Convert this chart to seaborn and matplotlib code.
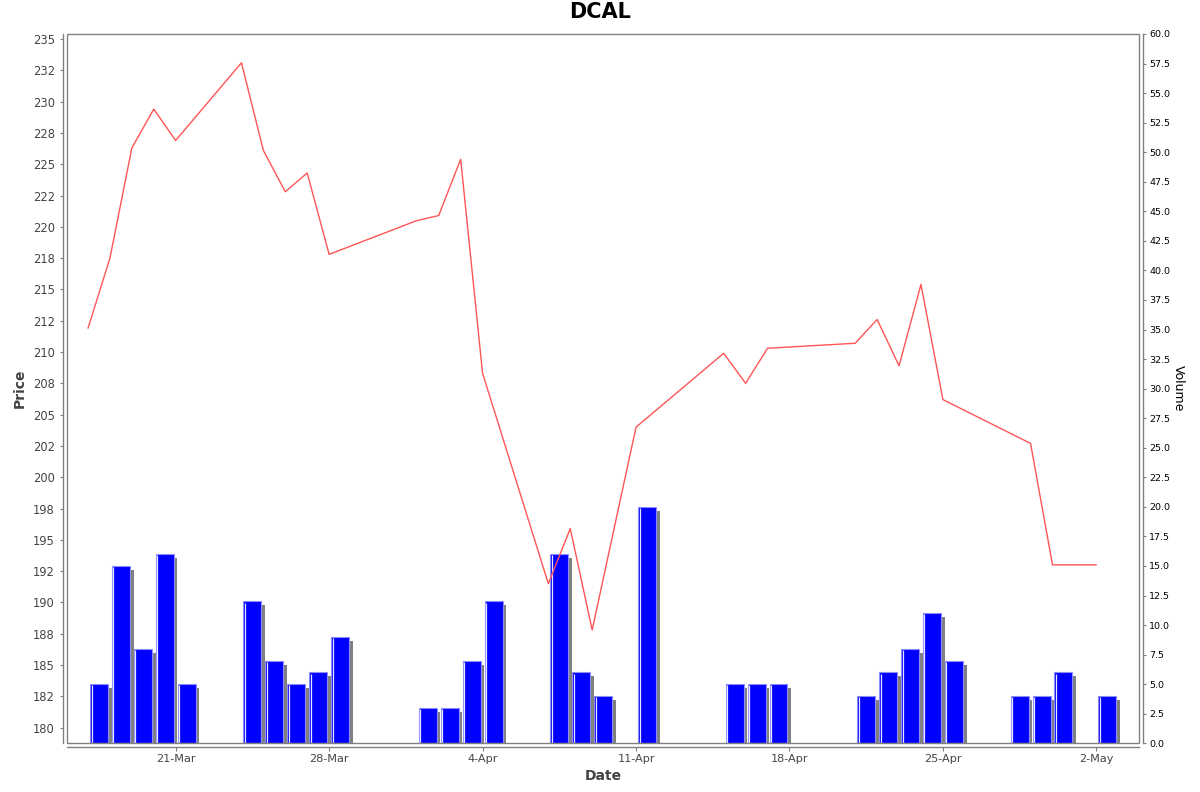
import numpy as np
import pandas as pd
import matplotlib
matplotlib.use("Agg")
import matplotlib.pyplot as plt
import matplotlib.dates as mdates
from matplotlib.patches import Rectangle
from matplotlib.ticker import FixedLocator, FuncFormatter
import seaborn as sns

# price series (days with a quote)
price_dates = ['2025-03-17', '2025-03-18', '2025-03-19', '2025-03-20', '2025-03-21',
               '2025-03-24', '2025-03-25', '2025-03-26', '2025-03-27', '2025-03-28',
               '2025-04-01', '2025-04-02', '2025-04-03', '2025-04-04',
               '2025-04-07', '2025-04-08', '2025-04-09', '2025-04-11',
               '2025-04-15', '2025-04-16', '2025-04-17',
               '2025-04-21', '2025-04-22', '2025-04-23', '2025-04-24', '2025-04-25',
               '2025-04-29', '2025-04-30', '2025-05-02']
prices = [211.9, 217.5, 226.3, 229.4, 226.9,
          233.1, 226.1, 222.8, 224.3, 217.8,
          220.5, 220.9, 225.4, 208.3,
          191.5, 195.9, 187.8, 204.0,
          209.9, 207.5, 210.3,
          210.7, 212.6, 208.9, 215.4, 206.2,
          202.7, 193.0, 193.0]

# volume series
volume_dates = ['2025-03-17', '2025-03-18', '2025-03-19', '2025-03-20', '2025-03-21',
                '2025-03-24', '2025-03-25', '2025-03-26', '2025-03-27', '2025-03-28',
                '2025-04-01', '2025-04-02', '2025-04-03', '2025-04-04',
                '2025-04-07', '2025-04-08', '2025-04-09', '2025-04-11',
                '2025-04-15', '2025-04-16', '2025-04-17',
                '2025-04-21', '2025-04-22', '2025-04-23', '2025-04-24', '2025-04-25',
                '2025-04-28', '2025-04-29', '2025-04-30', '2025-05-02']
volumes = [5, 15, 8, 16, 5,
           12, 7, 5, 6, 9,
           3, 3, 7, 12,
           16, 6, 4, 20,
           5, 5, 5,
           4, 6, 8, 11, 7,
           4, 4, 6, 4]

price_ticks = np.arange(180, 235.1, 2.5)
volume_ticks = np.arange(0, 60.1, 2.5)

price_df = pd.DataFrame({"Date": pd.to_datetime(price_dates), "Price": prices})
vol_x = mdates.date2num(pd.to_datetime(volume_dates).to_pydatetime())
vol = np.array(volumes, dtype=float)

sns.set_style("white")
plt.rcParams['font.family'] = ['DejaVu Sans']

fig = plt.figure(figsize=(12, 7.92), dpi=100)
ax = fig.add_axes([67.3 / 1200, 1 - 743.3 / 792, 1072 / 1200, 709.3 / 792])
ax2 = ax.twinx()

# volume bars with drop shadow
bar_w = 0.82
ax2.bar(vol_x + 0.5 + 0.17, vol - 0.34, width=bar_w, color='#808080', linewidth=0, zorder=1)
ax2.bar(vol_x + 0.5, vol, width=bar_w, color='#0000ff', edgecolor='#8c8cff', linewidth=0.8, zorder=2)
ax2.vlines(vol_x + 0.5 - bar_w / 2 + 0.07, 0, vol - 0.1, colors='#e6e6ff', linewidth=0.9, zorder=3)
ax2.set_ylim(0, 60)

# price line on top
sns.lineplot(data=price_df, x="Date", y="Price", ax=ax, color='#ff5555', linewidth=1.0)
ax.set_zorder(ax2.get_zorder() + 1)
ax.patch.set_visible(False)

start = mdates.date2num(pd.Timestamp('2025-03-17'))
end = mdates.date2num(pd.Timestamp('2025-05-03'))
ax.set_xlim(start - 0.945, end + 0.96)
ax.set_ylim(178.75, 235.4)

ax.xaxis.set_major_locator(mdates.WeekdayLocator(byweekday=mdates.FR))
ax.xaxis.set_major_formatter(mdates.DateFormatter('%-d-%b'))
ax.yaxis.set_major_locator(FixedLocator(price_ticks))
ax.yaxis.set_major_formatter(FuncFormatter(lambda v, p: '%.0f' % v))
ax2.yaxis.set_major_locator(FixedLocator(volume_ticks))
ax2.yaxis.set_major_formatter(FuncFormatter(lambda v, p: '%.1f' % v))

gray = '#808080'
for sp in ['top', 'right']:
    ax.spines[sp].set_visible(False)
for sp in ['top', 'left', 'bottom']:
    ax2.spines[sp].set_visible(False)
ax.spines['left'].set_position(('outward', 2.9))
ax.spines['bottom'].set_position(('outward', 2.9))
ax2.spines['right'].set_position(('outward', 2.9))
for s in [ax.spines['left'], ax.spines['bottom'], ax2.spines['right']]:
    s.set_color(gray)
    s.set_linewidth(1.0)

ax.add_patch(Rectangle((0, 0), 1, 1, transform=ax.transAxes, fill=False,
                       edgecolor=gray, linewidth=1.0, clip_on=False, zorder=10))

ax.tick_params(axis='y', direction='out', length=2, width=0.8, color=gray,
               labelsize=8.3, labelcolor='#444444', pad=4, left=True)
ax.tick_params(axis='x', direction='out', length=3, width=0.8, color=gray,
               labelsize=8.1, labelcolor='#444444', pad=1.5, bottom=True)
ax2.tick_params(axis='y', direction='out', length=2, width=0.8, color=gray,
                labelsize=6.8, labelcolor='black', pad=2.2, right=True)

ax.set_xlabel('Date', fontsize=10, fontweight='bold', color='#444444', va='center')
ax.xaxis.set_label_coords(0.5, (743.3 - 776) / 709.3)
ax.set_ylabel('Price', fontsize=10, fontweight='bold', color='#444444', va='center')
ax.yaxis.set_label_coords((20 - 67.3) / 1072, 0.5)
ax2.set_ylabel('Volume', fontsize=9, color='black', rotation=270, va='center')
ax2.yaxis.set_label_coords((1178.3 - 67.3) / 1072, 0.5)

fig.text(0.5, 1 - 12.5 / 792, 'DCAL', ha='center', va='center',
         fontsize=15, fontweight='bold', color='black')

fig.savefig('out.png', dpi=100, facecolor='white')
